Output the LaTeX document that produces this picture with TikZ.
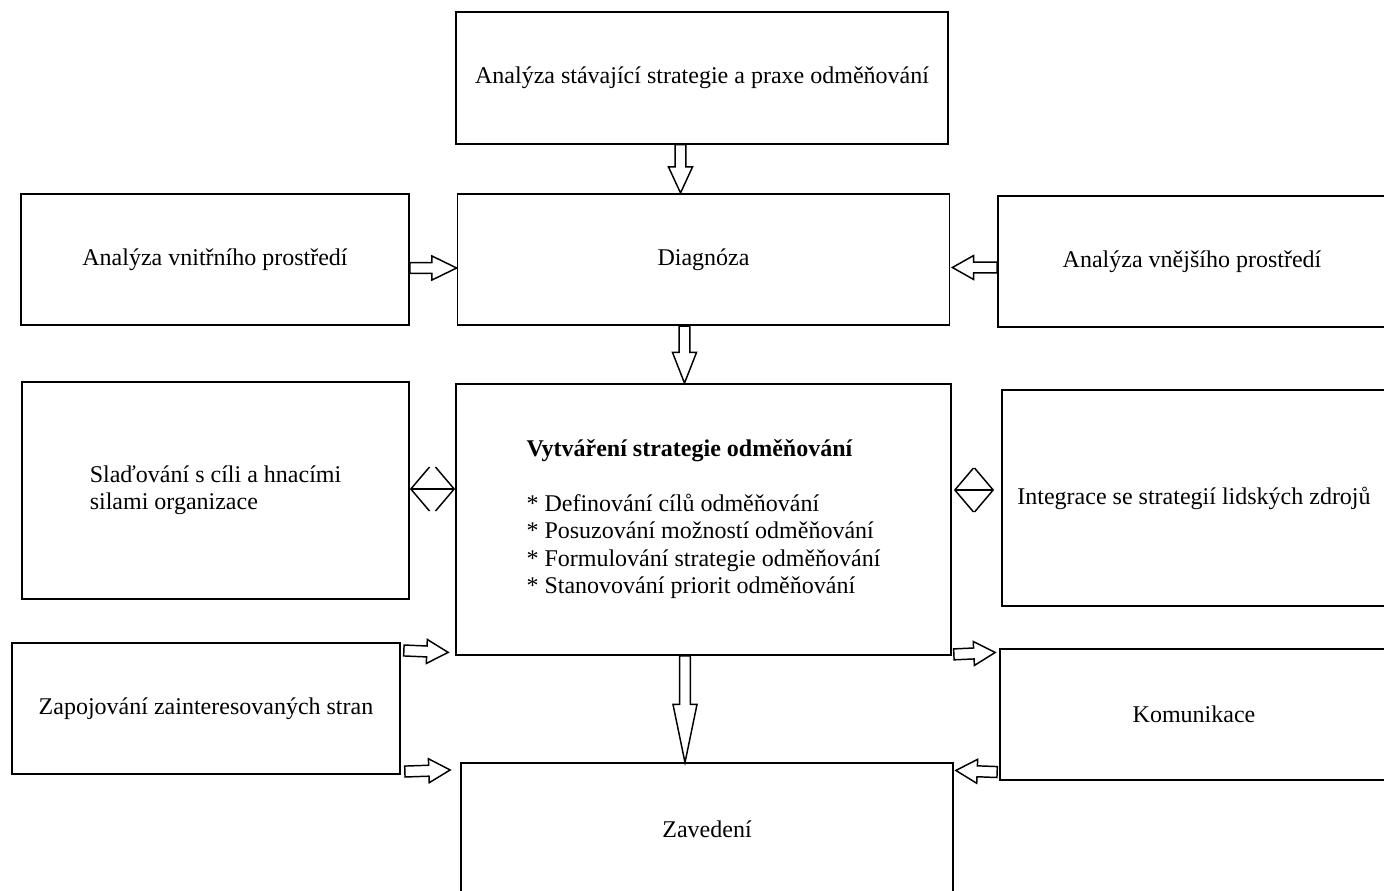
\documentclass[tikz,border=0pt]{standalone}
\usepackage{fontspec}
\setmainfont{Liberation Serif}
\usetikzlibrary{calc,arrows.meta}

\def\shaftw{4.1pt}
\def\headw{9pt}
\tikzset{
  blockarrow/.style={line width=1.1pt, /utils/exec={\def\headlen{#1}},
    to path={
      ($(\tikztostart)!\shaftw!90:(\tikztotarget)$)
      -- ($(\tikztotarget)!\headlen!(\tikztostart)!\shaftw!-90:(\tikztostart)$)
      -- ($(\tikztotarget)!\headlen!(\tikztostart)!\headw!-90:(\tikztostart)$)
      -- (\tikztotarget)
      -- ($(\tikztotarget)!\headlen!(\tikztostart)!\headw!90:(\tikztostart)$)
      -- ($(\tikztotarget)!\headlen!(\tikztostart)!\shaftw!90:(\tikztostart)$)
      -- ($(\tikztostart)!\shaftw!-90:(\tikztotarget)$) -- cycle}},
  blockarrow/.default=16pt
}

\begin{document}
\begin{tikzpicture}[
    x = 0.75pt, y = -0.75pt,
    every node/.style={ draw, rectangle, line width = 1.3pt,
      inner sep = 0pt, align = center,
      font = \fontsize{18pt}{20.6pt}\selectfont },
    bigbox/.style={ minimum width = 369pt, minimum height = 98.5pt },
    sidebox/.style={ minimum width = 291pt, minimum height = 98.5pt },
    barb/.style={ line width = 1.1pt,
      {Straight Barb[length=14pt,width=33pt]}-{Straight Barb[length=14pt,width=33pt]} }
    ]
  \useasboundingbox (0,0) rectangle (1384,890);
  \node (analyza) [bigbox] at (702,78) {Analýza stávající strategie a praxe odměňování};
  \node (diagnoza) [bigbox] at (703.5,259.5) {Diagnóza};
  \node (vnitrni) [sidebox] at (215,259.5) {Analýza vnitřního prostředí};
  \node (vnejsi) [sidebox] at (1192,261.5) {Analýza vnějšího prostředí};
  \node (tvorba) [minimum width = 371.25pt, minimum height = 203.25pt] at (703.5,519.5)
    {\begin{tabular}{@{}l@{}}\textbf{Vytváření strategie odměňování}\\[20.6pt]
      {*} Definování cílů odměňování\\
      {*} Posuzování možností odměňování\\
      {*} Formulování strategie odměňování\\
      {*} Stanovování priorit odměňování\end{tabular}};
  \node (sladeni) [minimum width = 290.25pt, minimum height = 162.75pt] at (215.5,490.5)
    {\begin{tabular}{@{}l@{}}Slaďování s cíli a hnacími\\ silami organizace\end{tabular}};
  \node (integrace) [minimum width = 288pt, minimum height = 162pt] at (1194,498)
    {Integrace se strategií lidských zdrojů};
  \node (zapojeni) [sidebox] at (206,708.5) {Zapojování zainteresovaných stran};
  \node (komunikace) [sidebox] at (1194,714.5) {Komunikace};
  \node (zavedeni) [bigbox] at (707,829) {Zavedení};
\draw[blockarrow=19.5pt] ($(analyza.south)+(-21.5,0)$) to ($(diagnoza.north)+(-23,0)$) ;
\draw[blockarrow=23pt] ($(diagnoza.south)+(-19,0)$) to ($(tvorba.north)+(-19,0)$) ;
\draw[blockarrow=18.5pt] ($(vnitrni.east)+(0,8.5)$) to ($(diagnoza.west)+(0,8.5)$) ;
\draw[blockarrow=16pt] ($(vnejsi.west)+(0,6)$) to ($(diagnoza.east)+(2,8)$) ;
\draw[blockarrow=43.5pt] ($(tvorba.south)+(-18.5,0)$) to ($(zavedeni.north)+(-22,0)$) ;
\draw[blockarrow] ($(zapojeni.north east)+(3,8.5)$) to ($(tvorba.south west)+(-7,-3.5)$) ;
\draw[blockarrow] ($(zapojeni.south east)+(4,-3.5)$) to ($(zavedeni.north west)+(-10,7.5)$) ;
\draw[blockarrow] ($(tvorba.south east)+(2,-1.5)$) to ($(komunikace.north west)+(-4,4.5)$) ;
\draw[blockarrow] ($(komunikace.south west)+(-2,-9)$) to ($(zavedeni.north east)+(2,8)$) ;
\draw[barb] ($(sladeni.east)+(0,-1.5)$) -- ($(sladeni.east -| tvorba.west)+(0,-1.5)$) ;
\draw[barb] ($(tvorba.east |- integrace.west)+(2,-8)$) -- ($(integrace.west)+(-7,-8)$) ;
  \end{tikzpicture}
\end{document}
